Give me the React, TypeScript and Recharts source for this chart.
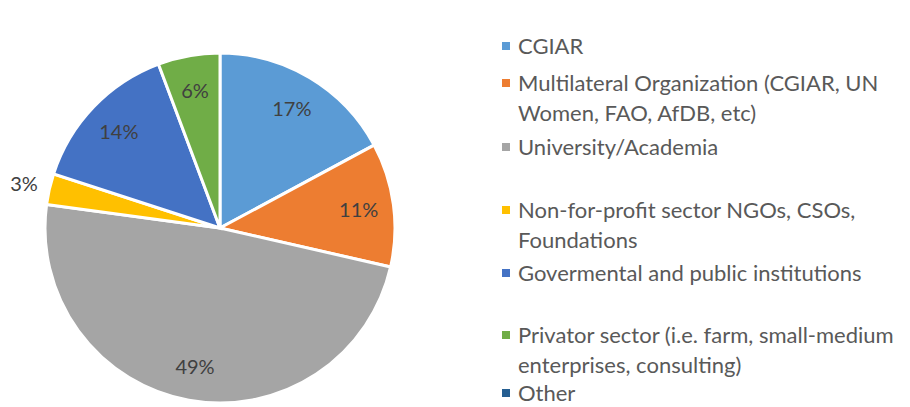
import { PieChart, Pie, Cell, Legend } from 'recharts'

// survey answers per sector (counts, n = 35)
const CATEGORIES = [
  'CGIAR',
  'Multilateral Organization (CGIAR, UN Women, FAO, AfDB, etc)',
  'University/Academia',
  'Non-for-profit sector NGOs, CSOs, Foundations',
  'Govermental and public institutions',
  'Privator sector (i.e. farm, small-medium enterprises, consulting)',
  'Other',
]
const COUNTS = [6, 4, 17, 1, 5, 2, 0]
const COLORS = ['#5B9BD5', '#ED7D31', '#A5A5A5', '#FFC000', '#4472C4', '#70AD47', '#255E91']

// legend text as it wraps in the original
const LEGEND_LINES = [
  ['CGIAR'],
  ['Multilateral Organization (CGIAR, UN', 'Women, FAO, AfDB, etc)'],
  ['University/Academia'],
  ['Non-for-profit sector NGOs, CSOs,', 'Foundations'],
  ['Govermental and public institutions'],
  ['Privator sector (i.e. farm, small-medium', 'enterprises, consulting)'],
  ['Other'],
]
const LEGEND_Y = [46, 83, 147, 210, 273, 335, 393]

const data = CATEGORIES.map((name, i) => ({ name, value: COUNTS[i] }))

const FONT = 'Lato, "Open Sans", sans-serif'
const RAD = Math.PI / 180

const renderLabel = (props: any) => {
  const { cx, cy, midAngle, outerRadius, percent } = props
  if (!percent) return null
  const r = percent < 0.05 ? outerRadius + 26 : outerRadius * 0.8
  const x = cx + r * Math.cos(-midAngle * RAD)
  const y = cy + r * Math.sin(-midAngle * RAD)
  return (
    <text x={x} y={y} fill="#404040" fontSize={20} fontFamily={FONT} textAnchor="middle" dominantBaseline="central">
      {`${Math.round(percent * 100)}%`}
    </text>
  )
}

const renderLegend = () => (
  <div style={{ position: 'relative', width: 910, height: 407, fontFamily: FONT, fontSize: 22, color: '#595959' }}>
    {LEGEND_LINES.map((lines, i) => (
      <div key={i}>
        <div style={{ position: 'absolute', left: 502, top: LEGEND_Y[i] - 4, width: 8, height: 8, background: COLORS[i] }} />
        {lines.map((line, j) => (
          <div
            key={j}
            style={{ position: 'absolute', left: 518, top: LEGEND_Y[i] + j * 29.5 - 9, height: 18, lineHeight: '18px', whiteSpace: 'nowrap' }}
          >
            {line}
          </div>
        ))}
      </div>
    ))}
  </div>
)

export default function App() {
  return (
    <div style={{ position: 'absolute', left: 0, top: 0, width: 910, height: 407, background: '#fff' }}>
      <PieChart width={910} height={407} margin={{ top: 0, right: 0, bottom: 0, left: 0 }}>
        <Pie
          data={data}
          dataKey="value"
          nameKey="name"
          cx={220}
          cy={228}
          outerRadius={175}
          startAngle={90}
          endAngle={-270}
          stroke="#fff"
          strokeWidth={3}
          labelLine={false}
          label={renderLabel}
          isAnimationActive={false}
        >
          {data.map((d, i) => (
            <Cell key={d.name} fill={COLORS[i]} />
          ))}
        </Pie>
        <Legend content={renderLegend} wrapperStyle={{ left: 0, top: 0, width: 910, height: 407 }} />
      </PieChart>
    </div>
  )
}
